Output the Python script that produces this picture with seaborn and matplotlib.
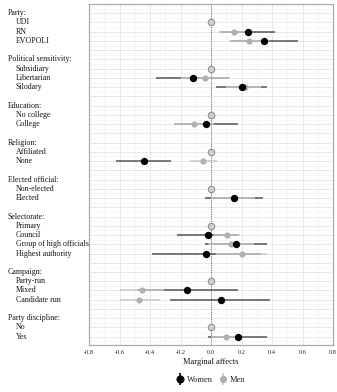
import matplotlib
matplotlib.use("Agg")
import matplotlib.pyplot as plt
import seaborn as sns
import numpy as np
import pandas as pd
from matplotlib.lines import Line2D
from matplotlib.legend_handler import HandlerTuple
from matplotlib.ticker import MultipleLocator

# ---- data ----
row_labels = ["Party:", "UDI", "RN", "EVOPOLI", "",
              "Political sensitivity:", "Subsidiary", "Libertarian", "Silodary", "",
              "Education:", "No college", "College", "",
              "Religion:", "Affiliated", "None", "",
              "Elected official:", "Non-elected", "Elected", "",
              "Selectorate:", "Primary", "Council", "Group of high officials", "Highest authority", "",
              "Campaign:", "Party-run", "Mixed", "Candidate run", "",
              "Party discipline:", "No", "Yes"]
headers = ["Party:", "Political sensitivity:", "Education:", "Religion:",
           "Elected official:", "Selectorate:", "Campaign:", "Party discipline:"]
reference_levels = ["UDI", "Subsidiary", "No college", "Affiliated",
                    "Non-elected", "Primary", "Party-run", "No"]

terms = ["RN", "EVOPOLI", "Libertarian", "Silodary", "College", "None", "Elected",
         "Council", "Group of high officials", "Highest authority", "Mixed",
         "Candidate run", "Yes"]
women_est = [0.24, 0.35, -0.12, 0.20, -0.03, -0.44, 0.15, -0.02, 0.165, -0.03, -0.155, 0.065, 0.175]
women_lo = [0.06, 0.13, -0.36, 0.03, -0.24, -0.62, -0.04, -0.22, -0.04, -0.39, -0.485, -0.27, -0.02]
women_hi = [0.42, 0.57, 0.12, 0.37, 0.18, -0.26, 0.34, 0.18, 0.37, 0.33, 0.175, 0.39, 0.37]
men_est = [0.15, 0.25, -0.04, 0.22, -0.11, -0.05, 0.15, 0.105, 0.13, 0.20, -0.455, -0.47, 0.10]
men_lo = [0.05, 0.12, -0.20, 0.10, -0.24, -0.14, 0.00, 0.02, -0.02, 0.03, -0.60, -0.60, 0.00]
men_hi = [0.25, 0.38, 0.125, 0.33, 0.02, 0.04, 0.29, 0.19, 0.28, 0.37, -0.31, -0.335, 0.20]

xticks = [-0.8, -0.6, -0.4, -0.2, 0.0, 0.2, 0.4, 0.6, 0.8]
xtick_labels = ["-0.8", "-0.6", "-0.4", "-0.2", "0.0", "0.2", "0.4", "0.6", "0.8"]

# ---- build tables ----
row_of = {lab: i for i, lab in enumerate(row_labels) if lab}
df = pd.concat([
    pd.DataFrame({"term": terms, "est": women_est, "lo": women_lo, "hi": women_hi, "gender": "Women"}),
    pd.DataFrame({"term": terms, "est": men_est, "lo": men_lo, "hi": men_hi, "gender": "Men"}),
], ignore_index=True)
df["row"] = df["term"].map(row_of)
ref = pd.DataFrame({"term": reference_levels, "est": 0.0})
ref["row"] = ref["term"].map(row_of)

sns.set_theme(style="white")
plt.rcParams["font.family"] = ["Liberation Serif", "DejaVu Serif"]

fig = plt.figure(figsize=(3.37, 3.92), dpi=100)
ax = fig.add_axes([89/337, 1-345/392, 244/337, 341/392])

# grid
ax.set_xlim(-0.8, 0.8)
ax.set_ylim(35.9, -1.0)
ax.xaxis.set_major_locator(MultipleLocator(0.2))
ax.xaxis.set_minor_locator(MultipleLocator(0.1))
ax.set_yticks(range(len(row_labels)))
ax.yaxis.set_minor_locator(MultipleLocator(0.5))
ax.grid(True, which="major", color="#e4e4e4", lw=0.6, zorder=0)
ax.grid(True, which="minor", color="#f1f1f1", lw=0.4, zorder=0)
ax.set_axisbelow(True)

ax.axvline(0, color="#555555", lw=0.6, ls=(0, (1.2, 1.6)), zorder=1)

colors = {"Women": "#555555", "Men": "#c8c8c8"}
pcolors = {"Women": "#000000", "Men": "#b0b0b0"}
for g in ["Women", "Men"]:
    d = df[df.gender == g]
    ax.hlines(d["row"], d["lo"], d["hi"], color=colors[g], lw=1.1, zorder=2)

sns.scatterplot(data=df[df.gender == "Men"], x="est", y="row", color=pcolors["Men"],
                s=20, linewidth=0, ax=ax, zorder=3, legend=False)
sns.scatterplot(data=df[df.gender == "Women"], x="est", y="row", color=pcolors["Women"],
                s=28, linewidth=0, ax=ax, zorder=4, legend=False)
sns.scatterplot(data=ref, x="est", y="row", color="#cfcfcf", edgecolor="#8a8a8a",
                s=22, linewidth=0.7, ax=ax, zorder=4, legend=False)

ax.set_yticklabels([])
ax.tick_params(axis="y", length=2, width=0.5, color="#555555", pad=1)
ax.tick_params(axis="x", length=2, width=0.5, color="#555555", pad=1.5, labelsize=4.6,
               labelcolor="#222222")
ax.set_xticks(xticks)
ax.set_xticklabels(xtick_labels)
ax.set_xlabel("Marginal affects", fontsize=6, labelpad=2, color="#111111")
ax.set_ylabel("")

for lab, r in zip(row_labels, range(len(row_labels))):
    if not lab:
        continue
    xpos = (8 - 89) / 244 if lab in headers else (16 - 89) / 244
    ax.text(xpos, r, lab, transform=ax.get_yaxis_transform(), ha="left", va="center",
            fontsize=5.7, color="#111111")

for sp in ax.spines.values():
    sp.set_color("#aaaaaa")
    sp.set_linewidth(0.9)

h_w = (Line2D([], [], color="#000000", marker="|", markersize=8, lw=0, markeredgewidth=1.2),
       Line2D([], [], color="#000000", marker="o", markersize=4.8, lw=0))
h_m = (Line2D([], [], color="#c8c8c8", marker="|", markersize=8, lw=0, markeredgewidth=1.2),
       Line2D([], [], color="#b0b0b0", marker="o", markersize=4.2, lw=0))
fig.legend([h_w, h_m], ["Women", "Men"], handler_map={tuple: HandlerTuple(ndivide=1)},
           loc="center", bbox_to_anchor=(211/337, 1-380/392), ncol=2, frameon=False,
           fontsize=6, handlelength=0.8, handletextpad=0.4, columnspacing=0.8)

fig.savefig("out.png", dpi=100)
